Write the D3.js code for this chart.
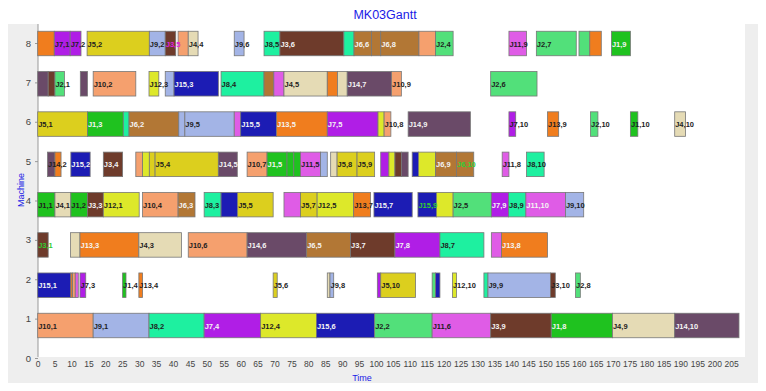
<!DOCTYPE html>
<html>
<head>
<meta charset="utf-8">
<script src="https://cdn.jsdelivr.net/npm/d3@7"></script>
<style>
body { margin: 0; background: #fff; }
svg { display: block; font-family: Arial, "Liberation Sans", sans-serif; }
</style>
</head>
<body>
<svg width="766" height="391"></svg>
<script>
// job colours, J1..J15
var jobColors = ["#1fc21f", "#52e07a", "#6e3b2b", "#e5dbb5", "#dccf1e", "#b27735", "#b01ee6",
    "#1ef0a0", "#a3b4e6", "#f5a06e", "#df5ce6", "#dde82a", "#f07d1e", "#6a4a68", "#1c1cb4"];

// one row per machine: [job, op, start, end, label colour] ; label colour "" = no visible label
var machine8 = [
    [13, 1, 0, 4.9, ""], [7, 1, 4.9, 9.6, "d"], [7, 2, 9.6, 12.8, "d"], [5, 2, 14.6, 33, "d"],
    [9, 2, 33, 37.7, "d"], [3, 5, 37.7, 40.8, "m"], [10, 5, 41.5, 44.5, ""], [4, 4, 44.5, 47.4, "d"],
    [9, 6, 58.1, 61, "d"], [8, 5, 66.9, 71.6, "d"], [3, 6, 71.6, 90.5, "w"], [8, 6, 90.5, 93.5, ""],
    [6, 6, 93.5, 98.7, "w"], [6, 7, 98.7, 101.4, ""], [6, 8, 101.4, 112.7, "w"], [10, 10, 112.7, 117.6, ""],
    [2, 4, 117.6, 122.8, "d"], [11, 9, 139.3, 144.5, "d"], [2, 7, 147.4, 159.2, "d"], [2, 9, 160, 163.2, ""],
    [13, 10, 163.2, 166.6, ""], [1, 9, 169.6, 175.2, "w"]
];
var machine7 = [
    [14, 1, 0, 3.1, ""], [3, 2, 3.1, 5.1, ""], [2, 1, 5.1, 7.9, "d"], [14, 3, 12.6, 14.7, ""],
    [10, 2, 16.4, 29, "d"], [12, 3, 32.9, 35.8, "d"], [9, 3, 37.7, 40.3, ""], [15, 3, 40.3, 53.4, "w"],
    [8, 4, 54.2, 66.9, "d"], [6, 4, 66.9, 69.8, ""], [11, 4, 69.8, 72.8, ""], [4, 5, 72.8, 85.6, "d"],
    [13, 6, 85.6, 88.6, ""], [4, 6, 88.6, 91.5, ""], [14, 7, 91.5, 104.6, "w"], [10, 9, 104.6, 107.5, "d"],
    [2, 6, 133.9, 147.6, "d"]
];
var machine6 = [
    [5, 1, 0, 14.7, "d"], [1, 3, 14.7, 25.3, "w"], [8, 1, 25.3, 27, ""], [6, 2, 27, 41.7, "w"],
    [9, 4, 41.7, 43.5, ""], [9, 5, 43.5, 58.1, "d"], [11, 3, 58.1, 60, ""], [15, 5, 60, 70.6, "w"],
    [13, 5, 70.6, 85.6, "w"], [7, 5, 85.6, 100.6, "w"], [12, 6, 100.6, 102.4, ""], [10, 8, 102.4, 104.4, "d"],
    [14, 9, 109.5, 127.9, "w"], [7, 10, 139.3, 141.3, "d"], [13, 9, 150.7, 154, "d"], [2, 10, 163.4, 165.6, "d"],
    [1, 10, 175.2, 177.4, "d"], [4, 10, 188.3, 191.5, "d"]
];
var machine5 = [
    [14, 2, 2.9, 5.1, "d"], [13, 2, 5.1, 6.9, ""], [15, 2, 9.8, 15.5, "w"], [3, 4, 19.4, 25.1, "w"],
    [10, 3, 29, 31, ""], [12, 2, 31, 33, ""], [5, 3, 33, 34.7, ""], [5, 4, 34.7, 53.4, "d"],
    [14, 5, 53.4, 59, "w"], [10, 7, 61.9, 67.8, "d"], [1, 5, 67.8, 73.7, "w"], [1, 6, 73.7, 75.7, ""],
    [1, 7, 75.7, 77.7, ""], [11, 5, 77.7, 83.6, "d"], [9, 7, 83.6, 85.6, ""], [4, 7, 86.6, 88.5, ""],
    [5, 8, 88.5, 94.4, "d"], [5, 9, 94.4, 99.6, "d"], [7, 6, 101.4, 103.8, ""], [12, 7, 103.8, 105.6, ""],
    [3, 8, 105.6, 107.5, ""], [14, 8, 107.5, 109.5, ""], [15, 8, 110.7, 112.6, ""], [12, 8, 112.6, 117.6, ""],
    [6, 9, 117.6, 123.8, "w"], [6, 10, 123.8, 128.9, "g"], [11, 8, 137.3, 139.3, "d"], [8, 10, 144.5, 149.7, "d"]
];
var machine4 = [
    [1, 1, 0, 5.1, "d"], [4, 1, 5.1, 9.8, "d"], [1, 2, 9.8, 14.7, "d"], [3, 3, 14.7, 19.4, "w"],
    [12, 1, 19.4, 30, "d"], [10, 4, 31, 41.5, "d"], [6, 3, 41.5, 46.5, "w"], [8, 3, 49.2, 54.2, "d"],
    [15, 4, 54.2, 59.1, ""], [5, 5, 59.1, 69.6, "d"], [11, 4, 72.8, 77.7, ""], [5, 7, 77.7, 82.6, "d"],
    [12, 5, 82.6, 93.4, "d"], [13, 7, 93.4, 98.4, "d"], [15, 7, 99.4, 110.7, "w"], [15, 9, 112.4, 117.9, "g"],
    [12, 9, 117.9, 122.8, ""], [2, 5, 122.8, 134.1, "d"], [7, 9, 134.1, 139.2, "w"], [8, 9, 139.2, 144.3, "d"],
    [11, 10, 144.3, 156, "w"], [9, 10, 156, 161.4, "d"]
];
var machine3 = [
    [3, 1, 0, 3.1, "g"], [4, 2, 9.7, 12.5, ""], [13, 3, 12.5, 29.9, "w"], [4, 3, 29.9, 42.5, "d"],
    [10, 6, 44.5, 61.9, "d"], [14, 6, 61.9, 79.5, "w"], [6, 5, 79.5, 92.5, "w"], [3, 7, 92.5, 105.6, "w"],
    [7, 8, 105.6, 118.9, "w"], [8, 7, 118.9, 131.9, "d"], [11, 7, 134.1, 137.1, ""], [13, 8, 137.1, 150.7, "w"]
];
var machine2 = [
    [15, 1, 0, 9.8, "w"], [13, 2, 9.8, 10.3, ""], [10, 2, 10.3, 11.1, ""], [11, 2, 11.1, 12, ""],
    [7, 3, 12.5, 14.2, "d"], [1, 4, 25.1, 26.1, "d"], [13, 4, 29.9, 31, "d"], [5, 6, 69.6, 70.8, "d"],
    [4, 8, 85.6, 86.4, ""], [9, 8, 86.4, 87.5, "d"], [7, 7, 100.4, 101.4, ""], [5, 10, 101.4, 111.7, "d"],
    [2, 3, 116.6, 117.6, ""], [15, 10, 117.6, 118.9, ""], [12, 10, 122.6, 123.8, "d"], [8, 8, 131.9, 133.1, ""],
    [9, 9, 133.1, 151.6, "d"], [3, 10, 151.6, 153, "d"], [2, 8, 159, 160.4, "d"]
];
var machine1 = [
    [10, 1, 0, 16.4, "d"], [9, 1, 16.4, 32.9, "d"], [8, 2, 32.9, 49.2, "d"], [7, 4, 49.2, 65.9, "w"],
    [12, 4, 65.9, 82.4, "d"], [15, 6, 82.4, 99.6, "w"], [2, 2, 99.6, 116.6, "d"], [11, 6, 116.6, 133.9, "d"],
    [3, 9, 133.9, 151.8, "w"], [1, 8, 151.8, 169.9, "w"], [4, 9, 169.9, 188.3, "d"], [14, 10, 188.3, 207.3, "w"]
];
var machines = [1, 2, 3, 4, 5, 6, 7, 8];
var rows = [machine1, machine2, machine3, machine4, machine5, machine6, machine7, machine8];
var xTicks = d3.range(0, 206, 5);
var yTicks = [0, 1, 2, 3, 4, 5, 6, 7, 8];

var labelColor = { d: "#1e1e1e", w: "#f4f4f4", g: "#33cc33", m: "#e020e0" };

var svg = d3.select("svg");

// grey figure panel, white plot area
svg.append("rect").attr("x", 8).attr("y", 24).attr("width", 750).attr("height", 359).attr("fill", "#eeeeee");
svg.append("rect").attr("x", 38).attr("y", 24).attr("width", 707).attr("height", 333).attr("fill", "#fff");

var x = d3.scaleLinear().domain([0, 205]).range([37.7, 731.2]);
var yAxisScale = d3.scaleLinear().domain([0, 8]).range([358, 43]);
var yRow = d3.scaleLinear().domain([1, 8]).range([325.5, 43.5]);
var barH = 24.5;

svg.append("g")
    .attr("transform", "translate(0,357)")
    .call(d3.axisBottom(x).tickValues(xTicks).tickSize(0).tickPadding(4))
    .call(g => g.select(".domain").remove())
    .selectAll("text").attr("font-size", 8.5).attr("fill", "#444").attr("font-family", "Arial, 'Liberation Sans'");

svg.append("g")
    .attr("transform", "translate(38,0)")
    .call(d3.axisLeft(yAxisScale).tickValues(yTicks).tickSize(3).tickPadding(4))
    .call(g => g.select(".domain").attr("stroke", "#999").attr("d", "M0,24V357"))
    .call(g => g.selectAll("line").attr("stroke", "#999"))
    .selectAll("text").attr("font-size", 9.5).attr("fill", "#444").attr("font-family", "Arial, 'Liberation Sans'");

var bars = [];
rows.forEach(function (row, i) {
    row.forEach(function (d) {
        bars.push({ m: machines[i], job: d[0], op: d[1], start: d[2], end: d[3], lc: d[4] });
    });
});

var g = svg.append("g");
g.selectAll("rect.bar")
    .data(bars)
    .enter()
    .append("rect")
    .attr("class", "bar")
    .attr("x", d => x(d.start))
    .attr("y", d => yRow(d.m) - barH / 2)
    .attr("width", d => x(d.end) - x(d.start))
    .attr("height", barH)
    .attr("fill", d => jobColors[d.job - 1])
    .attr("stroke", "#777")
    .attr("stroke-width", 0.8);

g.selectAll("text.lab")
    .data(bars.filter(d => d.lc !== ""))
    .enter()
    .append("text")
    .attr("class", "lab")
    .attr("x", d => x(d.start) + 0.5)
    .attr("y", d => yRow(d.m) + 3)
    .attr("font-size", 7.5)
    .attr("font-weight", "bold")
    .attr("fill", d => labelColor[d.lc])
    .text(d => "J" + d.job + "," + d.op);

svg.append("text").attr("x", 385).attr("y", 19).attr("text-anchor", "middle")
    .attr("font-size", 12.5).attr("fill", "#1a1ae6").text("MK03Gantt");
svg.append("text").attr("x", 362).attr("y", 381).attr("text-anchor", "middle")
    .attr("font-size", 9).attr("fill", "#1a1ae6").text("Time");
svg.append("text").attr("transform", "translate(24,190) rotate(-90)").attr("text-anchor", "middle")
    .attr("font-size", 9).attr("fill", "#1a1ae6").text("Machine");
</script>
</body>
</html>
